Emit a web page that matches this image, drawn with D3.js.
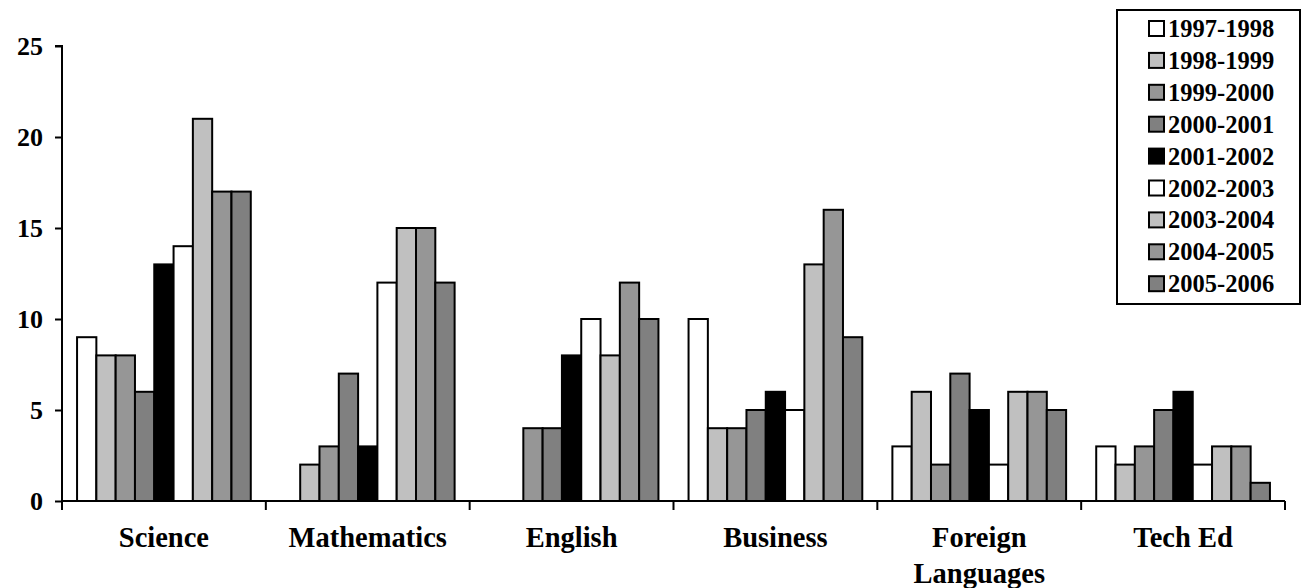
<!DOCTYPE html>
<html>
<head>
<meta charset="utf-8">
<script src="https://cdn.jsdelivr.net/npm/d3@7"></script>
<style>
  html, body { margin: 0; padding: 0; background: #fff; }
  svg { display: block; font-family: "Liberation Serif", "Times New Roman", serif; font-weight: bold; }
</style>
</head>
<body>
<svg id="chart" width="1302" height="588"></svg>
<script>
// Subjects along the x axis
const categories = ["Science", "Mathematics", "English", "Business", "Foreign Languages", "Tech Ed"];
// School years, one bar per subject each
const years = ["1997-1998", "1998-1999", "1999-2000", "2000-2001", "2001-2002",
               "2002-2003", "2003-2004", "2004-2005", "2005-2006"];
// Counts per year, in the order of categories
const v1997 = [9, 0, 0, 10, 3, 3];
const v1998 = [8, 2, 0, 4, 6, 2];
const v1999 = [8, 3, 4, 4, 2, 3];
const v2000 = [6, 7, 4, 5, 7, 5];
const v2001 = [13, 3, 8, 6, 5, 6];
const v2002 = [14, 12, 10, 5, 2, 2];
const v2003 = [21, 15, 8, 13, 6, 3];
const v2004 = [17, 15, 12, 16, 6, 3];
const v2005 = [17, 12, 10, 9, 5, 1];
const yTicks = [0, 5, 10, 15, 20, 25];

const seriesValues = [v1997, v1998, v1999, v2000, v2001, v2002, v2003, v2004, v2005];
const fills = ["#ffffff", "#c0c0c0", "#969696", "#808080", "#000000",
               "#ffffff", "#c0c0c0", "#969696", "#808080"];

const svg = d3.select("#chart");
const plotLeft = 62, plotRight = 1285, plotTop = 46, plotBottom = 501;

const x0 = d3.scaleBand().domain(categories).range([plotLeft, plotRight]).padding(0);
const x1 = d3.scaleBand().domain(years).range([0, x0.bandwidth()])
  .paddingInner(0).paddingOuter(0.78);
const y = d3.scaleLinear().domain([0, 25]).range([plotBottom, plotTop]);

const color = d3.scaleOrdinal().domain(years).range(fills);

// Bars
const rows = [];
categories.forEach((c, ci) => {
  years.forEach((yr, si) => {
    rows.push({ cat: c, year: yr, value: seriesValues[si][ci] });
  });
});

svg.append("g")
  .selectAll("rect")
  .data(rows.filter(d => d.value > 0))
  .join("rect")
  .attr("x", d => x0(d.cat) + x1(d.year))
  .attr("y", d => y(d.value))
  .attr("width", x1.bandwidth())
  .attr("height", d => y(0) - y(d.value))
  .attr("fill", d => color(d.year))
  .attr("stroke", "#000")
  .attr("stroke-width", 2);

// Y axis
const yAxis = d3.axisLeft(y).tickValues(yTicks).tickSize(7).tickPadding(12);
const gy = svg.append("g").attr("transform", `translate(${plotLeft},0)`).call(yAxis);
gy.select(".domain").attr("stroke", "#000").attr("stroke-width", 2)
  .attr("d", `M-7,${plotTop}H0V${plotBottom}`);
gy.selectAll(".tick line").attr("stroke", "#000").attr("stroke-width", 2);
gy.selectAll(".tick text").attr("font-size", 26).attr("font-family", "Liberation Serif")
  .attr("font-weight", "bold").attr("fill", "#000");

// X axis: ticks on category boundaries
const gx = svg.append("g").attr("transform", `translate(0,${plotBottom})`);
gx.append("line").attr("x1", plotLeft).attr("x2", plotRight).attr("y1", 0).attr("y2", 0)
  .attr("stroke", "#000").attr("stroke-width", 2);
const boundaries = categories.map(c => x0(c)).concat([plotRight]);
gx.selectAll("line.tk").data(boundaries).join("line").attr("class", "tk")
  .attr("x1", d => d).attr("x2", d => d).attr("y1", 0).attr("y2", 9)
  .attr("stroke", "#000").attr("stroke-width", 2);

const labels = gx.selectAll("text").data(categories).join("text")
  .attr("x", d => x0(d) + x0.bandwidth() / 2)
  .attr("y", 46)
  .attr("text-anchor", "middle")
  .attr("font-size", 28.5)
  .attr("fill", "#000");
labels.each(function(d) {
  const t = d3.select(this);
  const words = d === "Foreign Languages" ? ["Foreign", "Languages"] : [d];
  words.forEach((w, i) => {
    t.append("tspan").attr("x", x0(d) + x0.bandwidth() / 2)
      .attr("dy", i === 0 ? 0 : 36).text(w);
  });
});

// Legend
const lg = svg.append("g");
lg.append("rect").attr("x", 1117).attr("y", 10).attr("width", 183).attr("height", 294)
  .attr("fill", "#fff").attr("stroke", "#000").attr("stroke-width", 2);
const item = lg.selectAll("g.item").data(years).join("g").attr("class", "item")
  .attr("transform", (d, i) => `translate(1149,${21 + i * 31.9})`);
item.append("rect").attr("width", 15).attr("height", 15)
  .attr("fill", d => color(d)).attr("stroke", "#000").attr("stroke-width", 2);
item.append("text").attr("x", 19).attr("y", 16)
  .attr("font-size", 24.5).attr("fill", "#000").text(d => d);
</script>
</body>
</html>
